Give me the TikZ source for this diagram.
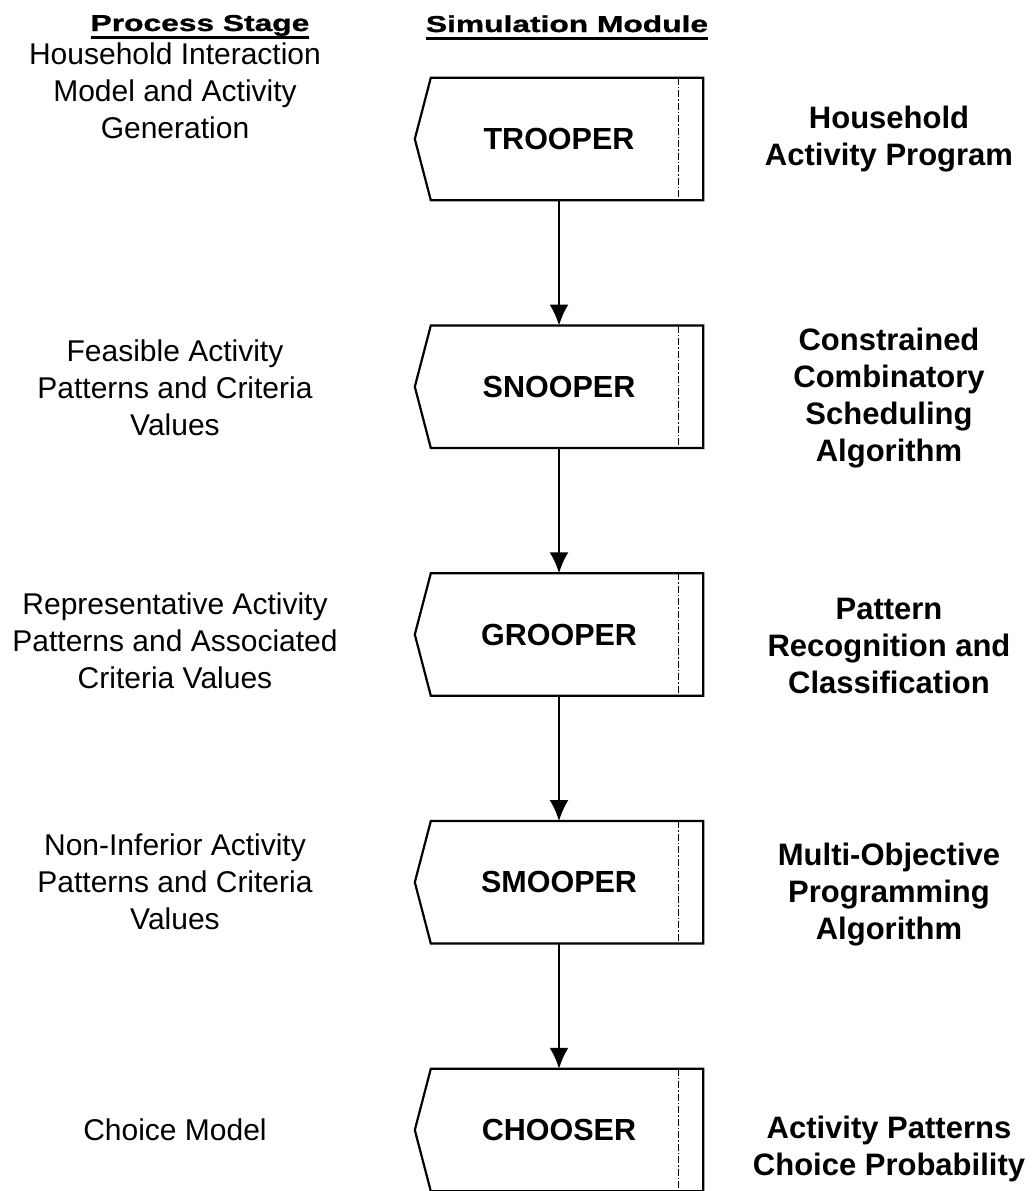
\documentclass[tikz,border=0pt]{standalone}
\usepackage{fontspec}
\setmainfont{Liberation Sans}
\newfontfamily\headfont{Liberation Sans}[FakeStretch=1.38,FakeBold=1.2]
\newcommand{\headrule}[1]{\leavevmode\setbox0=\hbox{#1}%
  \rlap{\vrule height -4.8pt depth 7.6pt width \wd0}\box0}
\usetikzlibrary{arrows.meta}

\begin{document}
\begin{tikzpicture}[x=1pt,y=-1pt]
  \tikzset{
    node distance=247.75pt,
    heading/.style={anchor=base,font=\headfont\bfseries\fontsize{23}{26}\selectfont},
    stage/.style={align=center,font=\fontsize{30}{37}\selectfont},
    result/.style={align=center,font=\bfseries\fontsize{31}{37}\selectfont},
    module/.style={minimum width=288pt,minimum height=122pt,inner sep=0pt,
      font=\bfseries\fontsize{30.5}{36}\selectfont},
    outline/.style={line width=2.2pt,line join=miter},
    divider/.style={line width=0.9pt,dash pattern=on 7pt off 2pt on 1.5pt off 2pt},
    flow/.style={line width=2.2pt,-{Latex[length=21pt,width=19pt]}}
  }
  \useasboundingbox (0,0) rectangle (1032,1191);

  % column heads
  \node[heading] (hstage) at (200,31) {\headrule{Process Stage}};
  \node[heading] (hmodule) at (567,32) {\headrule{Simulation Module}};

  % simulation modules
  \node[module] (trooper) at (559,139) {TROOPER};
  \node[module,below of=trooper] (snooper) {SNOOPER};
  \node[module,below of=snooper] (grooper) {GROOPER};
  \node[module,below of=grooper] (smooper) {SMOOPER};
  \node[module,below of=smooper] (chooser) {CHOOSER};

  \foreach \m in {trooper,snooper,grooper,smooper,chooser}{
    \draw[outline] ([xshift=16pt]\m.north west) -- (\m.north east) -- (\m.south east)
      -- ([xshift=16pt]\m.south west) -- (\m.west) -- cycle;
    \draw[divider] ([xshift=-25pt]\m.north east) -- ([xshift=-25pt]\m.south east);
  }

  \draw[flow] (trooper.south) -- (snooper.north);
  \draw[flow] (snooper.south) -- (grooper.north);
  \draw[flow] (grooper.south) -- (smooper.north);
  \draw[flow] (smooper.south) -- (chooser.north);

  % process stages
  \node[stage] (s1) at (175,91) {Household Interaction\\Model and Activity\\Generation};
  \node[stage] (s2) at (175,388) {Feasible Activity\\Patterns and Criteria\\Values};
  \node[stage] (s3) at (175,641) {Representative Activity\\Patterns and Associated\\Criteria Values};
  \node[stage] (s4) at (175,882) {Non-Inferior Activity\\Patterns and Criteria\\Values};
  \node[stage] (s5) at (175,1130) {Choice Model};

  % what each module does
  \node[result] (r1) at (889,139) {Household\\Activity Program};
  \node[result] (r2) at (889,398) {Constrained\\Combinatory\\Scheduling\\Algorithm};
  \node[result] (r3) at (889,646) {Pattern\\Recognition and\\Classification};
  \node[result] (r4) at (889,895) {Multi-Objective\\Programming\\Algorithm};
  \node[result] (r5) at (889,1149) {Activity Patterns\\Choice Probability};
\end{tikzpicture}
\end{document}
